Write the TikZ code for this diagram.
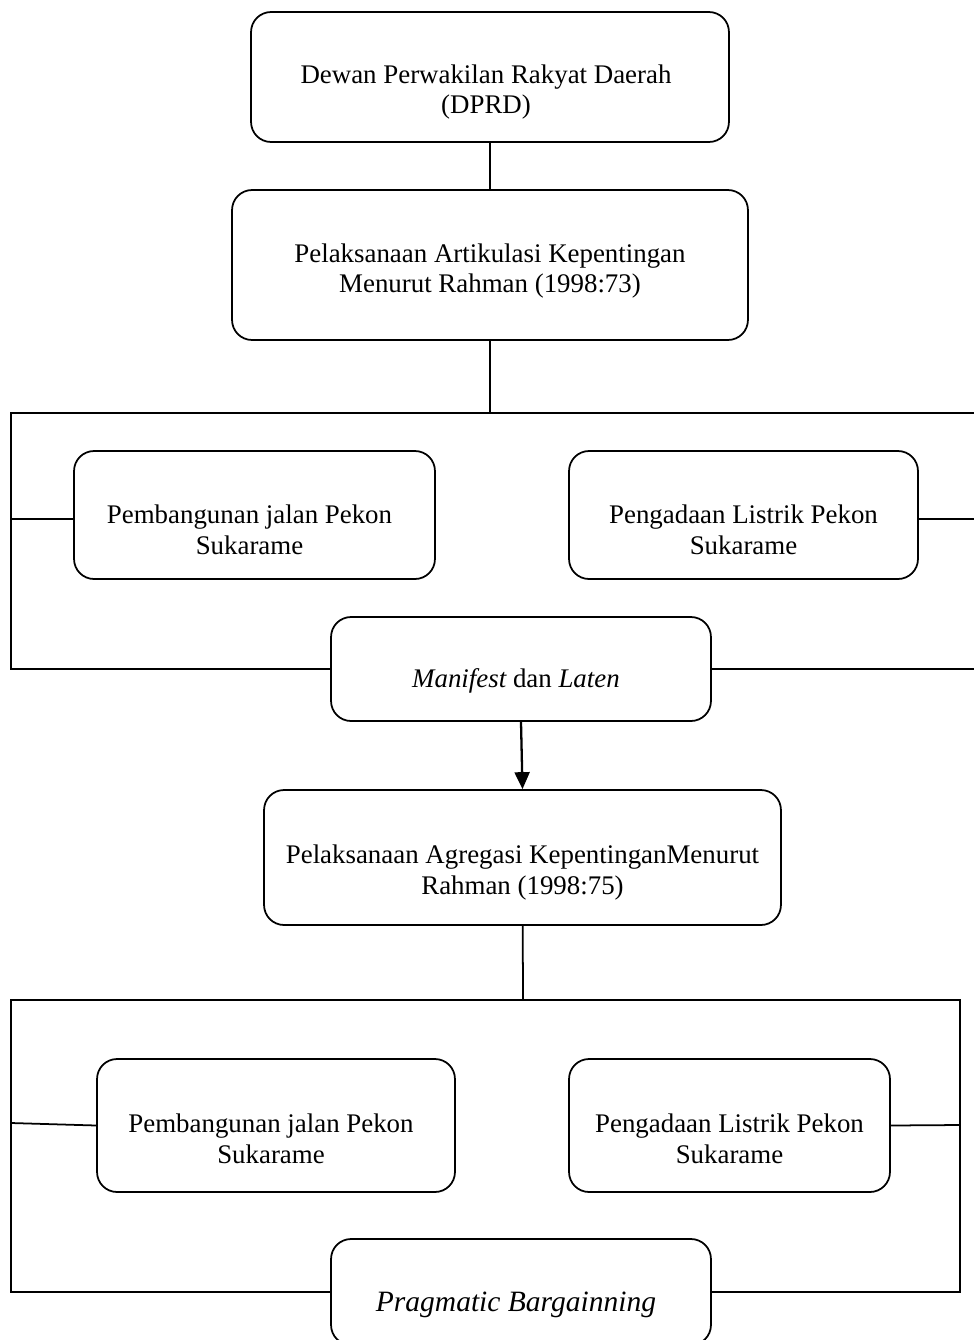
\documentclass[tikz,border=0pt]{standalone}
\usepackage{fontspec}
\setmainfont{Liberation Serif}
\usetikzlibrary{arrows.meta}

\begin{document}
\begin{tikzpicture}[x=0.02cm, y=-0.02cm,
    box/.style={draw, line width=1pt, rounded corners=0.4cm, inner sep=0pt},
    txt/.style={align=center, font=\fontsize{15.3}{17.6}\selectfont},
    link/.style={line width=1pt}]
  \useasboundingbox (0,0) rectangle (974,1340);
  % Top boxes
  \node[box, minimum width=9.56cm, minimum height=2.6cm,
        label={[txt, yshift=-0.3cm, xshift=-0.08cm]center:{Dewan Perwakilan Rakyat Daerah\\(DPRD)}}] (dprd) at (490,77) {};
  \node[box, minimum width=10.32cm, minimum height=3cm,
        label={[txt, yshift=-0.12cm]center:{Pelaksanaan Artikulasi Kepentingan\\ Menurut Rahman (1998:73)}}] (artik) at (490,265) {};
  \draw[link] (dprd) -- (artik);
  % Articulation group
  \node[box, minimum width=7.22cm, minimum height=2.56cm,
        label={[txt, yshift=-0.3cm, xshift=-0.1cm]center:{Pembangunan jalan Pekon\\Sukarame}}] (jalanA) at (254.5,515) {};
  \node[box, minimum width=6.98cm, minimum height=2.56cm,
        label={[txt, yshift=-0.3cm]center:{Pengadaan Listrik Pekon\\Sukarame}}] (listrikA) at (743.5,515) {};
  \node[box, minimum width=7.6cm, minimum height=2.08cm,
        label={[txt, yshift=-0.24cm, xshift=-0.1cm]center:{\itshape Manifest\upshape{} dan \itshape Laten}}] (manifest) at (521,669) {};
  \coordinate (topA) at (490,413);
  \draw[link] (artik) -- (topA);
  \draw[link] (974,413) -- (11,413) -- (11,669) -- (manifest.west);
  \draw[link] (manifest.east) -- (974,669);
  \draw[link] (11,519) -- (jalanA.west |- 0,519);
  \draw[link] (listrikA.east |- 0,519) -- (974,519);
  % Aggregation
  \node[box, minimum width=10.34cm, minimum height=2.7cm,
        label={[txt, yshift=-0.3cm]center:{Pelaksanaan Agregasi KepentinganMenurut\\Rahman (1998:75)}}] (agreg) at (522.5,857.5) {};
  \draw[line width=1.3pt, -{Triangle[length=0.34cm, width=0.3cm]}] (manifest.south) -- (agreg.north);
  % Aggregation group
  \node[box, minimum width=7.16cm, minimum height=2.66cm,
        label={[txt, yshift=-0.26cm, xshift=-0.1cm]center:{Pembangunan jalan Pekon\\Sukarame}}] (jalanB) at (276,1125.5) {};
  \node[box, minimum width=6.42cm, minimum height=2.66cm,
        label={[txt, yshift=-0.26cm]center:{Pengadaan Listrik Pekon\\Sukarame}}] (listrikB) at (729.5,1125.5) {};
  \node[box, minimum width=7.6cm, minimum height=2.12cm,
        label={[align=center, yshift=-0.26cm, xshift=-0.1cm, font=\fontsize{16.8}{20}\selectfont\itshape]center:{Pragmatic Bargainning}}] (pragma) at (521,1292) {};
  \coordinate (topB) at (523,1000);
  \draw[link] (agreg) -- (topB);
  \draw[link] (pragma.west) -- (11,1292) -- (11,1000) -- (960,1000) -- (960,1292) -- (pragma.east);
  \draw[link] (11,1123) -- (jalanB.west);
  \draw[link] (listrikB.east) -- (960,1125);
\end{tikzpicture}
\end{document}
